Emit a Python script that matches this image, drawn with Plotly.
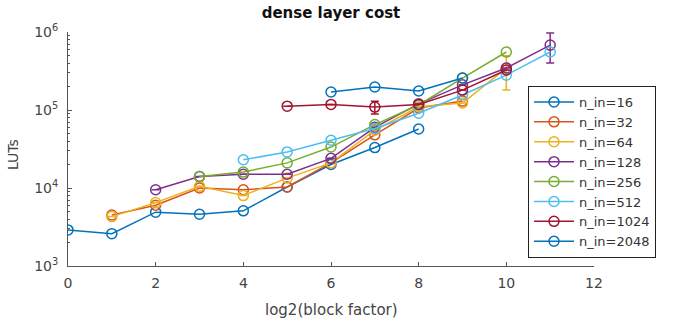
import plotly.graph_objects as go

names = ["n_in=16", "n_in=32", "n_in=64", "n_in=128", "n_in=256", "n_in=512", "n_in=1024", "n_in=2048"]
colors = ["#0072BD", "#D95319", "#EDB120", "#7E2F8E", "#77AC30", "#4DBEEE", "#A2142F", "#0072BD"]

x16 = [0, 1, 2, 3, 4, 5, 6, 7, 8]
y16 = [2900, 2600, 4900, 4600, 5100, 10300, 20000, 33000, 57000]
x32 = [1, 2, 3, 4, 5, 6, 7, 8, 9]
y32 = [4500, 6000, 10000, 9500, 10300, 21000, 48000, 106000, 130000]
x64 = [1, 2, 3, 4, 5, 6, 7, 8, 9, 10]
y64 = [4300, 6500, 10500, 8000, 13400, 21000, 55000, 110000, 123000, 345000]
e64_plus = [0, 0, 0, 0, 0, 0, 0, 0, 0, 150000]
e64_minus = [0, 0, 0, 0, 0, 0, 0, 0, 0, 165000]
x128 = [2, 3, 4, 5, 6, 7, 8, 9, 10, 11]
y128 = [9500, 14000, 15000, 15000, 24000, 60000, 120000, 210000, 345000, 680000]
e128_plus = [0, 0, 0, 0, 0, 0, 0, 0, 0, 290000]
e128_minus = [0, 0, 0, 0, 0, 0, 0, 0, 0, 280000]
x256 = [3, 4, 5, 6, 7, 8, 9, 10]
y256 = [14000, 16000, 21000, 33500, 65000, 116000, 257000, 554000]
x512 = [4, 5, 6, 7, 8, 9, 10, 11]
y512 = [23000, 29000, 41000, 58000, 91000, 156000, 280000, 554000]
x1024 = [5, 6, 7, 8, 9, 10]
y1024 = [112000, 118000, 109000, 118000, 180000, 326000]
e1024 = [0, 0, 20000, 0, 0, 0]
x2048 = [6, 7, 8, 9]
y2048 = [170000, 197000, 175000, 257000]

xs = [x16, x32, x64, x128, x256, x512, x1024, x2048]
ys = [y16, y32, y64, y128, y256, y512, y1024, y2048]
errs = [None, None, (e64_plus, e64_minus), (e128_plus, e128_minus), None, None, (e1024, e1024), None]

x_ticks = [0, 2, 4, 6, 8, 10, 12]
y_ticks = [1e3, 1e4, 1e5, 1e6]
y_ticktext = ["10<sup>3</sup>", "10<sup>4</sup>", "10<sup>5</sup>", "10<sup>6</sup>"]

fig = go.Figure()
for name, c, x, y, e in zip(names, colors, xs, ys, errs):
    kw = {}
    if e is not None:
        kw["error_y"] = dict(type="data", array=e[0], arrayminus=e[1], color=c,
                             thickness=1.5, width=4, symmetric=False)
    fig.add_trace(go.Scatter(
        x=x, y=y, name=name, mode="lines+markers",
        line=dict(color=c, width=1.5),
        marker=dict(symbol="circle-open", size=10, color=c, line=dict(width=1.5, color=c)),
        **kw))

W, H = 677, 321
L, R, T, B = 68, 83, 32, 55
pw, ph = W - L - R, H - T - B

axis_color = "#555555"
fig.update_layout(
    width=W, height=H,
    margin=dict(l=L, r=R, t=T, b=B),
    paper_bgcolor="white", plot_bgcolor="white",
    font=dict(family="DejaVu Sans", size=13, color="#444444"),
    title=dict(text="<b>dense layer cost</b>", x=(L + pw / 2) / W, xanchor="center",
               y=1 - 13 / H, yanchor="middle", font=dict(size=15, color="#111111")),
    xaxis=dict(range=[0, 12], tickvals=x_ticks, showgrid=False, zeroline=False,
               showline=True, linecolor=axis_color, linewidth=1, automargin=False,
               ticks="inside", ticklen=4, tickcolor=axis_color, ticklabelstandoff=4,
               tickfont=dict(size=14)),
    yaxis=dict(type="log", range=[3, 6], tickvals=y_ticks, ticktext=y_ticktext,
               showgrid=False, zeroline=False, showline=True, linecolor=axis_color, linewidth=1,
               automargin=False,
               ticks="inside", ticklen=4, tickcolor=axis_color, ticklabelstandoff=6,
               minor=dict(ticks="inside", ticklen=2, tickcolor=axis_color, dtick="D1"),
               tickfont=dict(size=14)),
    legend=dict(x=(528 - L) / pw, xanchor="left", y=(H - B - 86) / ph, yanchor="top",
                bgcolor="white", bordercolor="#222222", borderwidth=1,
                font=dict(size=13, color="#333333"), itemwidth=40, tracegroupgap=0),
    showlegend=True,
    annotations=[
        dict(text="log2(block factor)", xref="paper", yref="paper",
             x=0.5, y=-(310 - (H - B)) / ph, xanchor="center", yanchor="middle",
             showarrow=False, font=dict(size=15, color="#444444")),
        dict(text="LUTs", xref="paper", yref="paper",
             x=-(L - 13) / pw, y=(H - B - 155) / ph, xanchor="center", yanchor="middle",
             textangle=-90, showarrow=False, font=dict(size=14, color="#444444")),
    ],
)

fig.write_html("out.html")
